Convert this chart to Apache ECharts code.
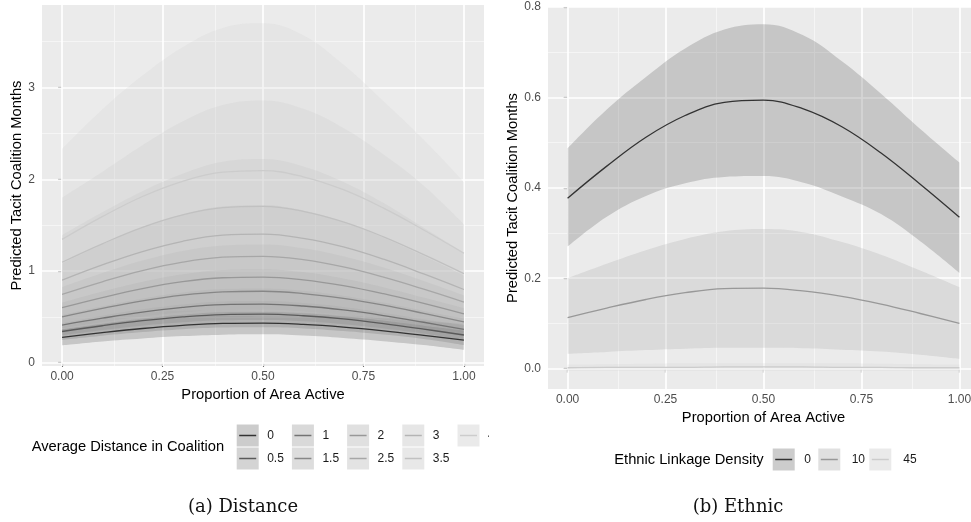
<!DOCTYPE html>
<html><head><meta charset="utf-8">
<script src="https://cdn.jsdelivr.net/npm/echarts@6/dist/echarts.min.js"></script>
<style>html,body{margin:0;padding:0;background:#fff}#c{width:971px;height:522px}</style>
</head><body><div id="c"></div>
<script>
// ---------- data ----------
const xs = [0, 0.1, 0.2, 0.3, 0.4, 0.5, 0.6, 0.7, 0.8, 0.9, 1];

const distLevels = ['0', '0.5', '1', '1.5', '2', '2.5', '3', '3.5', '4'];
const distFit = [
  [0.277,0.328,0.373,0.407,0.428,0.431,0.417,0.388,0.347,0.298,0.246],
  [0.340,0.403,0.458,0.500,0.525,0.529,0.512,0.477,0.426,0.366,0.302],
  [0.410,0.485,0.552,0.603,0.633,0.638,0.618,0.575,0.514,0.441,0.364],
  [0.500,0.592,0.674,0.736,0.772,0.779,0.754,0.701,0.627,0.538,0.444],
  [0.600,0.710,0.808,0.883,0.926,0.934,0.904,0.841,0.752,0.646,0.532],
  [0.745,0.882,1.004,1.096,1.150,1.160,1.123,1.044,0.933,0.802,0.661],
  [0.900,1.066,1.212,1.324,1.390,1.401,1.356,1.262,1.128,0.968,0.798],
  [1.095,1.296,1.475,1.611,1.691,1.705,1.650,1.535,1.372,1.178,0.971],
  [1.345,1.592,1.812,1.978,2.077,2.094,2.027,1.886,1.685,1.447,1.193]
];
const distLower = [
  [0.190,0.232,0.264,0.290,0.306,0.310,0.296,0.270,0.235,0.192,0.140],
  [0.248,0.294,0.334,0.365,0.383,0.386,0.374,0.346,0.307,0.259,0.193],
  [0.299,0.354,0.403,0.440,0.462,0.466,0.451,0.419,0.373,0.317,0.244],
  [0.345,0.408,0.465,0.508,0.533,0.538,0.520,0.484,0.431,0.366,0.293],
  [0.376,0.443,0.503,0.549,0.575,0.579,0.561,0.522,0.467,0.401,0.330],
  [0.408,0.476,0.532,0.575,0.598,0.603,0.586,0.553,0.504,0.441,0.370],
  [0.410,0.490,0.554,0.588,0.590,0.582,0.572,0.554,0.516,0.466,0.396],
  [0.390,0.480,0.540,0.565,0.570,0.560,0.545,0.520,0.480,0.440,0.430],
  [0.360,0.420,0.470,0.500,0.510,0.505,0.500,0.500,0.490,0.460,0.416]
];
const distUpper = [
  [0.364,0.424,0.482,0.524,0.550,0.552,0.538,0.506,0.459,0.404,0.352],
  [0.432,0.512,0.582,0.635,0.667,0.672,0.650,0.608,0.545,0.473,0.411],
  [0.521,0.616,0.701,0.766,0.804,0.810,0.785,0.731,0.655,0.565,0.484],
  [0.655,0.776,0.883,0.964,1.011,1.020,0.988,0.918,0.823,0.710,0.595],
  [0.824,0.977,1.113,1.217,1.277,1.289,1.247,1.160,1.037,0.891,0.734],
  [1.082,1.288,1.476,1.617,1.702,1.717,1.660,1.535,1.362,1.163,0.952],
  [1.390,1.640,1.870,2.060,2.190,2.220,2.140,1.970,1.740,1.470,1.200],
  [1.800,2.080,2.370,2.630,2.810,2.860,2.770,2.560,2.270,1.930,1.510],
  [2.330,2.760,3.130,3.440,3.650,3.700,3.570,3.250,2.850,2.430,1.970]
];

const ethLevels = ['0', '10', '45'];
const ethFit = [
  [0.377,0.448,0.512,0.560,0.589,0.594,0.575,0.535,0.477,0.408,0.335],
  [0.113,0.134,0.153,0.168,0.177,0.178,0.172,0.160,0.143,0.122,0.100],
  [0.002,0.003,0.003,0.003,0.004,0.004,0.004,0.003,0.003,0.002,0.002]
];
const ethLower = [
  [0.270,0.336,0.382,0.410,0.424,0.426,0.412,0.381,0.342,0.282,0.212],
  [0.033,0.037,0.041,0.044,0.046,0.046,0.045,0.042,0.038,0.031,0.022],
  [-0.005,-0.005,-0.005,-0.005,-0.005,-0.005,-0.005,-0.005,-0.005,-0.005,-0.005]
];
const ethUpper = [
  [0.487,0.573,0.645,0.708,0.750,0.762,0.738,0.680,0.608,0.530,0.456],
  [0.200,0.232,0.262,0.287,0.304,0.309,0.302,0.280,0.252,0.217,0.180],
  [0.009,0.010,0.011,0.012,0.012,0.012,0.012,0.012,0.011,0.010,0.009]
];

const xTicks = [0, 0.25, 0.5, 0.75, 1];
const xMinor = [0.125, 0.375, 0.625, 0.875];
const yTicksA = [0, 1, 2, 3];
const yMinorA = [0.5, 1.5, 2.5, 3.5];
const yTicksB = [0, 0.2, 0.4, 0.6, 0.8];
const yMinorB = [0.1, 0.3, 0.5, 0.7];

// ---------- styling ----------
const distColors = ['#333333','#5A5A5A','#737373','#878787','#989898','#A7A7A7','#B4B4B4','#C1C1C1','#CCCCCC'];
const ethColors = ['#333333','#989898','#CCCCCC'];
const FONT = '"Liberation Sans", Arial, sans-serif';

function mix(hex, bg, a) {
  const p = h => [1,3,5].map(i => parseInt(h.slice(i, i+2), 16));
  const c = p(hex), b = p(bg);
  return 'rgb(' + c.map((v, i) => Math.round(a*v + (1-a)*b[i])).join(',') + ')';
}

function mkX(k) {
  return {
    type: 'value', gridIndex: k, min: -0.05, max: 1.05,
    axisLine: {show: false}, splitLine: {show: false},
    axisTick: {show: true, customValues: xTicks, length: 4, lineStyle: {color: '#333', width: 1.1}},
    axisLabel: {customValues: xTicks, formatter: v => v.toFixed(2), color: '#4D4D4D',
      fontSize: 12, fontFamily: FONT, margin: 5},
    name: 'Proportion of Area Active', nameLocation: 'middle', nameGap: 20,
    nameTextStyle: {color: '#000', fontSize: 14.7, fontFamily: FONT}
  };
}
function mkY(k, min, max, ticks, fmt, gap) {
  return {
    type: 'value', gridIndex: k, min: min, max: max,
    axisLine: {show: false}, splitLine: {show: false},
    axisTick: {show: true, customValues: ticks, length: 4, lineStyle: {color: '#333', width: 1.1}},
    axisLabel: {customValues: ticks, formatter: fmt, color: '#4D4D4D',
      fontSize: 12, fontFamily: FONT, margin: 7},
    name: 'Predicted Tacit Coalition Months', nameLocation: 'middle', nameGap: gap, nameRotate: 90,
    nameTextStyle: {color: '#000', fontSize: 14.7, fontFamily: FONT}
  };
}

function gridLines(k, yMaj, yMin) {
  const maj = {color: '#FFFFFF', width: 1.7, type: 'solid'};
  const mn = {color: '#F6F6F6', width: 0.9, type: 'solid'};
  const d = [];
  xMinor.forEach(v => d.push({xAxis: v, lineStyle: mn}));
  yMin.forEach(v => d.push({yAxis: v, lineStyle: mn}));
  xTicks.forEach(v => d.push({xAxis: v, lineStyle: maj}));
  yMaj.forEach(v => d.push({yAxis: v, lineStyle: maj}));
  return {
    type: 'line', xAxisIndex: k, yAxisIndex: k, data: [[0, 0]], symbol: 'none',
    lineStyle: {opacity: 0}, silent: true, z: 1,
    markLine: {z: 1, silent: true, symbol: ['none', 'none'], label: {show: false}, animation: false, data: d}
  };
}

const series = [gridLines(0, yTicksA, yMinorA), gridLines(1, yTicksB, yMinorB)];

// ribbons: stacked pair (lower, then width); the y value is put in the first
// column so that ECharts stacks the y dimension (both axes are value axes)
function addBands(k, fit, lo, hi, colors, tag) {
  fit.forEach((f, i) => {
    const st = tag + i;
    series.push({
      type: 'line', xAxisIndex: k, yAxisIndex: k, stack: st, stackStrategy: 'all',
      encode: {x: 1, y: 0},
      data: xs.map((x, j) => [lo[i][j], x]), symbol: 'none', smooth: 0.4,
      lineStyle: {opacity: 0}, silent: true, z: 3
    });
    series.push({
      type: 'line', xAxisIndex: k, yAxisIndex: k, stack: st, stackStrategy: 'all',
      encode: {x: 1, y: 0},
      data: xs.map((x, j) => [hi[i][j] - lo[i][j], x]), symbol: 'none', smooth: 0.4,
      lineStyle: {opacity: 0}, areaStyle: {color: colors[i], opacity: 0.2}, silent: true, z: 3
    });
  });
  fit.forEach((f, i) => {
    series.push({
      type: 'line', xAxisIndex: k, yAxisIndex: k,
      data: xs.map((x, j) => [x, f[j]]), symbol: 'none', smooth: 0.4,
      lineStyle: {color: colors[i], width: 1.3}, silent: true, z: 4
    });
  });
}
addBands(0, distFit, distLower, distUpper, distColors, 'd');
addBands(1, ethFit, ethLower, ethUpper, ethColors, 'e');

// ---------- legends (graphic) ----------
const G = [];
function key(x, y, color, label, lx) {
  G.push({type: 'rect', shape: {x: x, y: y, width: 22, height: 22}, style: {fill: mix(color, '#F2F2F2', 0.2)}});
  G.push({type: 'line', shape: {x1: x + 2.5, y1: y + 11, x2: x + 19.5, y2: y + 11}, style: {stroke: color, lineWidth: 1.5}});
  G.push({type: 'text', x: lx, y: y + 11, style: {text: label, fill: '#1A1A1A', fontSize: 12, fontFamily: FONT, align: 'left', verticalAlign: 'middle'}});
}
G.push({type: 'text', x: 31.7, y: 447.3, style: {text: 'Average Distance in Coalition', fill: '#000', fontSize: 14.7, fontFamily: FONT, align: 'left', verticalAlign: 'middle'}});
distLevels.forEach((lab, i) => {
  const col = Math.floor(i / 2), row = i % 2;
  const kx = 236.7 + col * 55.2, ky = 424.5 + row * 23;
  key(kx, ky, distColors[i], lab, kx + 30.5);
});
G.push({type: 'text', x: 614.3, y: 460, style: {text: 'Ethnic Linkage Density', fill: '#000', fontSize: 14.7, fontFamily: FONT, align: 'left', verticalAlign: 'middle'}});
const ethKeyX = [772.7, 818.3, 869.3];
const ethLabX = [804.3, 851.7, 903.3];
ethLevels.forEach((lab, i) => key(ethKeyX[i], 448.5, ethColors[i], lab, ethLabX[i]));
// subfigure clipping of the left panel
G.push({type: 'rect', z: 100, shape: {x: 489, y: 415, width: 14, height: 65}, style: {fill: '#FFFFFF'}});
// captions
G.push({type: 'text', x: 243, y: 507, style: {text: '(a) Distance', fill: '#111', fontSize: 18, fontFamily: '"DejaVu Serif", serif', align: 'center', verticalAlign: 'middle'}});
G.push({type: 'text', x: 738, y: 507, style: {text: '(b) Ethnic', fill: '#111', fontSize: 18, fontFamily: '"DejaVu Serif", serif', align: 'center', verticalAlign: 'middle'}});

const option = {
  animation: false,
  backgroundColor: '#FFFFFF',
  grid: [
    {left: 42, top: 5, width: 442, height: 361, show: true, backgroundColor: '#EBEBEB', borderWidth: 0, containLabel: false, outerBoundsMode: 'none'},
    {left: 548, top: 7, width: 431, height: 382, show: true, backgroundColor: '#EBEBEB', borderWidth: 0, containLabel: false, outerBoundsMode: 'none'}
  ],
  xAxis: [mkX(0), mkX(1)],
  yAxis: [
    mkY(0, -0.036, 3.9, yTicksA, v => String(v), 16),
    mkY(1, -0.045, 0.8, yTicksB, v => v.toFixed(1), 28)
  ],
  series: series,
  graphic: {elements: G}
};
const chart = echarts.init(document.getElementById('c'), null, {renderer: 'canvas'});
chart.setOption(option);
</script>
</body></html>
